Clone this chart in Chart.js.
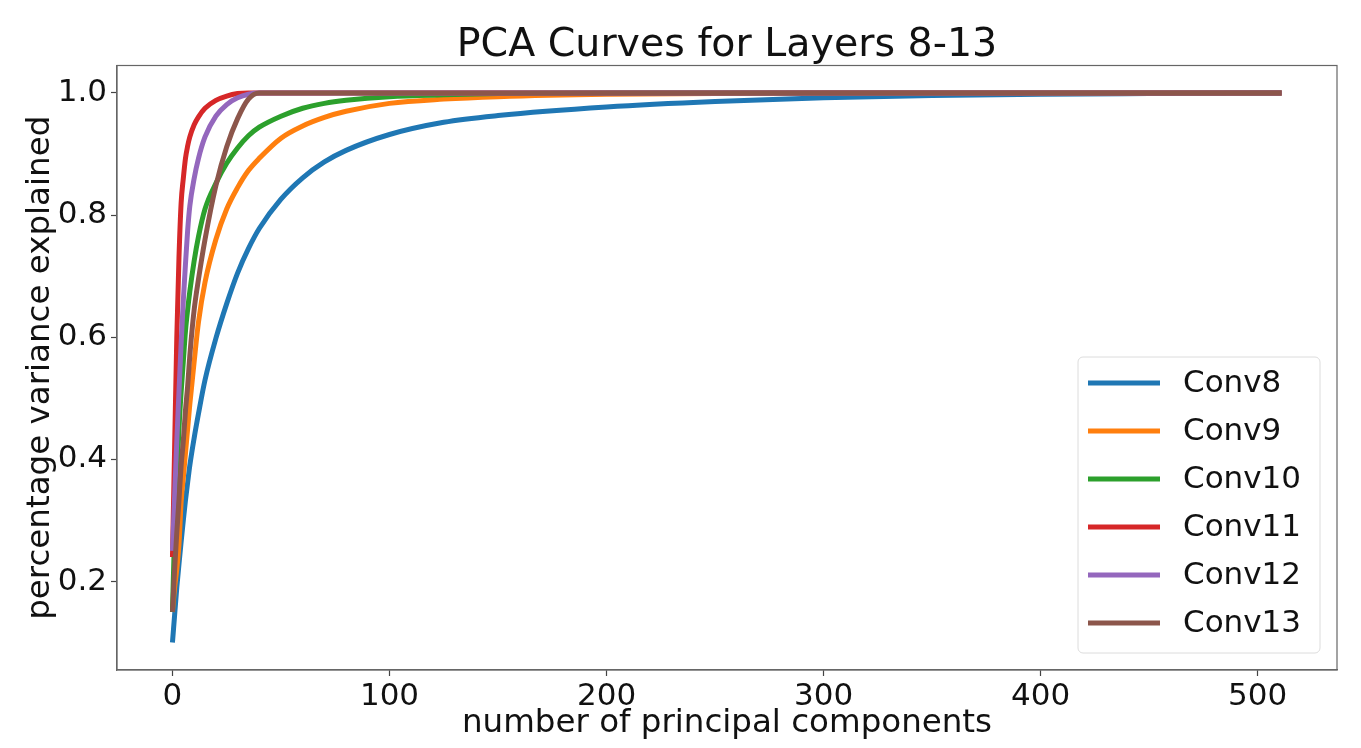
<!DOCTYPE html>
<html>
<head>
<meta charset="utf-8">
<script src="https://cdn.jsdelivr.net/npm/chart.js@4.4.1/dist/chart.umd.min.js"></script>
<style>
  html, body { margin: 0; padding: 0; background: #fff; }
  #wrap { width: 1361px; height: 748px; }
</style>
</head>
<body>
<div id="wrap"><canvas id="pca" width="1361" height="748"></canvas></div>
<script>
// number of principal components (x positions)
const components = [0, 1, 2, 3, 4, 5, 6, 7, 8, 10, 12, 15, 20, 25, 30, 35, 40, 50, 60, 70, 80, 100, 125, 150, 200, 250, 300, 350, 400, 450, 511];

const conv8  = [0.10, 0.145, 0.19, 0.228, 0.265, 0.30, 0.333, 0.362, 0.39, 0.435, 0.475, 0.53, 0.598, 0.655, 0.705, 0.745, 0.778, 0.826, 0.861, 0.887, 0.906, 0.932, 0.952, 0.963, 0.977, 0.986, 0.992, 0.996, 0.998, 0.999, 1.0];
const conv9  = [0.15, 0.19, 0.22, 0.26, 0.33, 0.37, 0.41, 0.45, 0.49, 0.56, 0.625, 0.69, 0.76, 0.81, 0.845, 0.873, 0.893, 0.926, 0.946, 0.96, 0.97, 0.983, 0.99, 0.994, 0.998, 0.999, 1.0, 1.0, 1.0, 1.0, 1.0];
const conv10 = [0.15, 0.28, 0.37, 0.45, 0.51, 0.56, 0.61, 0.645, 0.675, 0.725, 0.765, 0.81, 0.852, 0.885, 0.91, 0.93, 0.944, 0.962, 0.975, 0.983, 0.988, 0.994, 0.997, 0.999, 1.0, 1.0, 1.0, 1.0, 1.0, 1.0, 1.0];
const conv11 = [0.24, 0.42, 0.60, 0.73, 0.82, 0.86, 0.893, 0.913, 0.928, 0.948, 0.961, 0.975, 0.988, 0.995, 0.999, 1.0, 1.0, 1.0, 1.0, 1.0, 1.0, 1.0, 1.0, 1.0, 1.0, 1.0, 1.0, 1.0, 1.0, 1.0, 1.0];
const conv12 = [0.25, 0.34, 0.43, 0.51, 0.59, 0.66, 0.72, 0.775, 0.815, 0.86, 0.893, 0.928, 0.962, 0.981, 0.992, 0.998, 1.0, 1.0, 1.0, 1.0, 1.0, 1.0, 1.0, 1.0, 1.0, 1.0, 1.0, 1.0, 1.0, 1.0, 1.0];
const conv13 = [0.15, 0.22, 0.28, 0.333, 0.39, 0.43, 0.48, 0.52, 0.57, 0.645, 0.695, 0.76, 0.848, 0.912, 0.958, 0.99, 1.0, 1.0, 1.0, 1.0, 1.0, 1.0, 1.0, 1.0, 1.0, 1.0, 1.0, 1.0, 1.0, 1.0, 1.0];

const seriesNames = ['Conv8', 'Conv9', 'Conv10', 'Conv11', 'Conv12', 'Conv13'];
const seriesValues = [conv8, conv9, conv10, conv11, conv12, conv13];
const seriesColors = ['#1f77b4', '#ff7f0e', '#2ca02c', '#d62728', '#9467bd', '#8c564b'];

const xTicks = [0, 100, 200, 300, 400, 500];
const yTicks = [0.2, 0.4, 0.6, 0.8, 1.0];

const FONT = 'DejaVu Sans';

// legend box in the lower right corner of the plot, plus the top/right frame
const frameAndLegend = {
    id: 'frameAndLegend',
    afterDatasetsDraw(chart) {
        const { ctx, chartArea } = chart;
        ctx.save();
        ctx.strokeStyle = '#666';
        ctx.lineWidth = 1.2;
        ctx.strokeRect(chartArea.left, chartArea.top, chartArea.right - chartArea.left, chartArea.bottom - chartArea.top);

        const boxX = chartArea.right - 259, boxY = chartArea.bottom - 313;
        const boxW = 242, boxH = 296;
        ctx.beginPath();
        ctx.roundRect(boxX, boxY, boxW, boxH, 5);
        ctx.fillStyle = 'rgba(255,255,255,0.85)';
        ctx.fill();
        ctx.strokeStyle = '#dcdcdc';
        ctx.lineWidth = 1;
        ctx.stroke();

        ctx.font = '31px "' + FONT + '"';
        ctx.textBaseline = 'middle';
        ctx.textAlign = 'left';
        chart.data.datasets.forEach((ds, i) => {
            const y = boxY + 26 + i * 48;
            ctx.beginPath();
            ctx.moveTo(boxX + 10, y);
            ctx.lineTo(boxX + 82, y);
            ctx.strokeStyle = ds.borderColor;
            ctx.lineWidth = 5;
            ctx.stroke();
            ctx.fillStyle = '#111';
            ctx.fillText(ds.label, boxX + 105, y + 1);
        });
        ctx.restore();
    }
};

new Chart(document.getElementById('pca'), {
    type: 'line',
    data: {
        datasets: seriesNames.map((name, i) => ({
            label: name,
            data: components.map((c, j) => ({ x: c, y: seriesValues[i][j] })),
            borderColor: seriesColors[i],
            backgroundColor: seriesColors[i],
            borderWidth: 5,
            pointRadius: 0,
            cubicInterpolationMode: 'monotone',
            order: seriesNames.length - i
        }))
    },
    options: {
        responsive: false,
        animation: false,
        events: [],
        layout: { padding: { left: 0, right: 24, top: 0, bottom: 0 } },
        plugins: {
            legend: { display: false },
            tooltip: { enabled: false },
            title: {
                display: true,
                fullSize: false,
                text: 'PCA Curves for Layers 8-13',
                color: '#111',
                font: { family: FONT, size: 39.5, weight: 'normal', lineHeight: 1 },
                padding: { top: 26, bottom: 0 }
            }
        },
        scales: {
            x: {
                type: 'linear',
                min: -25.55,
                max: 536.55,
                afterBuildTicks: axis => { axis.ticks = xTicks.map(v => ({ value: v })); },
                afterFit: axis => { axis.height = 78; },
                grid: { drawOnChartArea: false, drawTicks: true, tickLength: 6, tickColor: '#444', tickWidth: 1.2 },
                border: { display: true, color: '#666', width: 1.2 },
                ticks: {
                    color: '#111',
                    padding: 2,
                    maxRotation: 0,
                    font: { family: FONT, size: 31 },
                    callback: v => String(v)
                },
                title: {
                    display: true,
                    text: 'number of principal components',
                    color: '#111',
                    font: { family: FONT, size: 32.5, lineHeight: 1 },
                    padding: { top: 0, bottom: 8 }
                }
            },
            y: {
                min: 0.055,
                max: 1.045,
                afterBuildTicks: axis => { axis.ticks = yTicks.map(v => ({ value: v })); },
                afterFit: axis => { axis.width = 117; },
                grid: { drawOnChartArea: false, drawTicks: true, tickLength: 6, tickColor: '#444', tickWidth: 1.2 },
                border: { display: true, color: '#666', width: 1.2 },
                ticks: {
                    color: '#111',
                    padding: 4,
                    font: { family: FONT, size: 31 },
                    callback: v => v.toFixed(1)
                },
                title: {
                    display: true,
                    text: 'percentage variance explained',
                    color: '#111',
                    font: { family: FONT, size: 32.5, lineHeight: 1 },
                    padding: { top: 24, bottom: 0 }
                }
            }
        }
    },
    plugins: [frameAndLegend]
});
</script>
</body>
</html>
